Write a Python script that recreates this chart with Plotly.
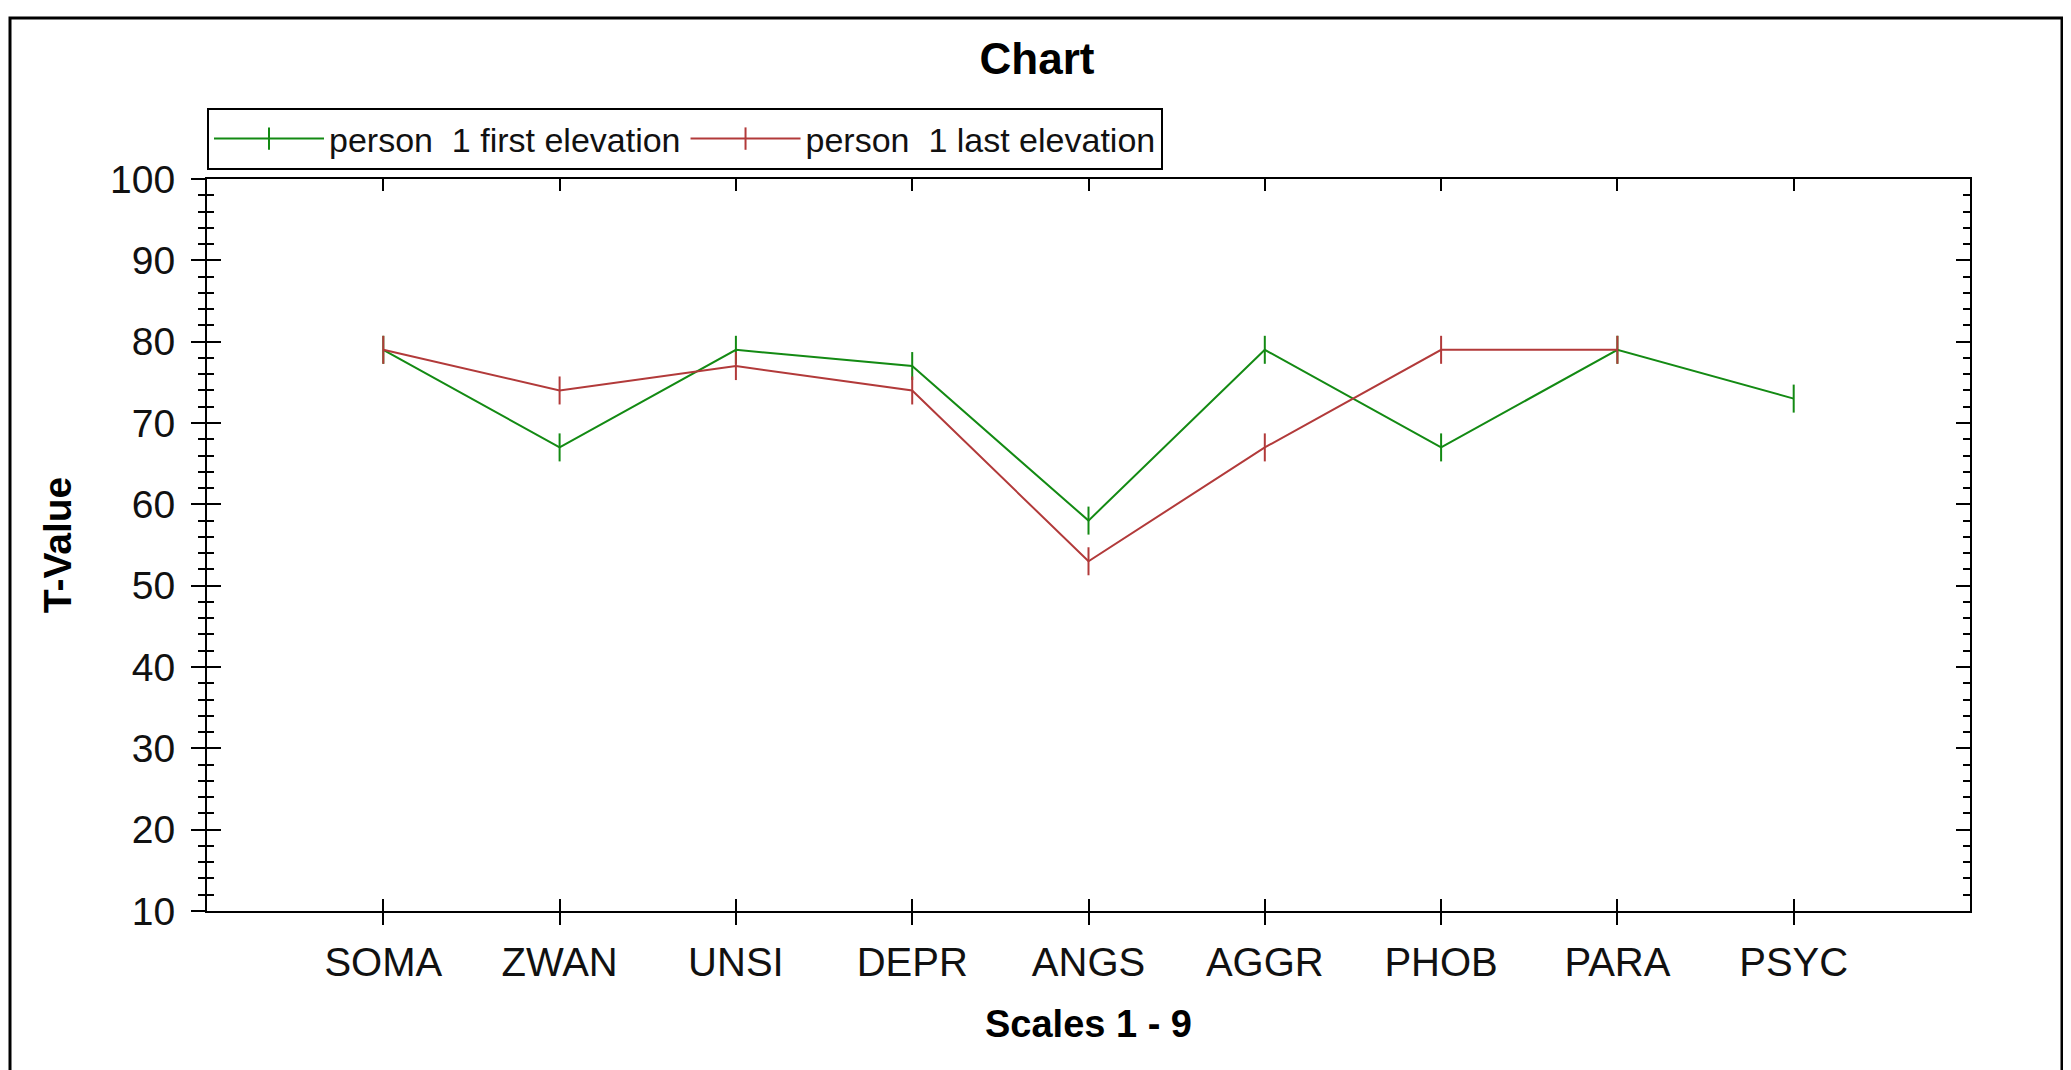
import plotly.graph_objects as go

categories = ["SOMA", "ZWAN", "UNSI", "DEPR", "ANGS", "AGGR", "PHOB", "PARA", "PSYC"]
first_elevation = [79, 67, 79, 77, 58, 79, 67, 79, 73]
last_elevation = [79, 74, 77, 74, 53, 67, 79, 79, None]
series_names = ["person  1 first elevation", "person  1 last elevation"]
y_ticks = list(range(10, 101, 10))

GREEN = "#138a13"
RED = "#b23a3a"
FONT = "Liberation Sans, Arial, sans-serif"

W, H = 2071, 1070
OFF = 8  # page body offset
L, R, T, B = 207 - OFF, 1970 - OFF, 179 - OFF, 911 - OFF

fig = go.Figure()
for name, vals, col in [(series_names[0], first_elevation, GREEN),
                        (series_names[1], last_elevation, RED)]:
    fig.add_trace(go.Scatter(
        x=categories, y=vals, name=name, mode="lines+markers",
        line=dict(color=col, width=2),
        marker=dict(symbol="line-ns", size=20, line=dict(color=col, width=2), color=col),
        connectgaps=False,
    ))

axis_common = dict(type="category", categoryorder="array", categoryarray=categories,
                   range=[-1, len(categories)])

fig.update_layout(
    width=W, height=H,
    margin=dict(l=L, r=W - R, t=T, b=H - B, pad=0),
    paper_bgcolor="white", plot_bgcolor="white",
    font=dict(family=FONT, color="#111111", size=38),
    title=dict(text="<b>Chart</b>", x=(1037 - OFF) / W, xanchor="center",
               y=1 - (59 - OFF) / H, yanchor="middle", yref="container",
               font=dict(size=44, family=FONT, color="black")),
    showlegend=True,
    legend=dict(orientation="h", x=0, xanchor="left", y=(911 - 108) / (911 - 179), yanchor="top",
                bordercolor="black", borderwidth=2, bgcolor="white",
                font=dict(size=34, family=FONT, color="#111111"),
                itemwidth=110, tracegroupgap=0),
    xaxis=dict(**axis_common, showgrid=False, zeroline=False,
               showline=True, linecolor="black", linewidth=2,
               ticks="outside", ticklen=12, tickwidth=2, tickcolor="black",
               tickfont=dict(size=40, family=FONT, color="#111111"),
               ticklabelstandoff=3,
               title=dict(text="<b>Scales 1 - 9</b>", standoff=27,
                          font=dict(size=38, family=FONT, color="black"))),
    xaxis2=dict(**axis_common, overlaying="x", anchor="y", side="bottom", matches="x",
                showgrid=False, zeroline=False, showline=False,
                ticks="inside", ticklen=12, tickwidth=2, tickcolor="black",
                showticklabels=False),
    xaxis3=dict(**axis_common, overlaying="x", anchor="y", side="top", matches="x",
                showgrid=False, zeroline=False, showline=True, linecolor="black", linewidth=2,
                ticks="inside", ticklen=12, tickwidth=2, tickcolor="black",
                showticklabels=False),
    yaxis=dict(range=[10, 100], tickvals=y_ticks, showgrid=False, zeroline=False,
               showline=True, linecolor="black", linewidth=2,
               ticks="outside", ticklen=14, tickwidth=2, tickcolor="black",
               minor=dict(dtick=2, ticks="outside", ticklen=7, tickwidth=2, tickcolor="black", showgrid=False),
               tickfont=dict(size=39, family=FONT, color="#111111"),
               ticklabelstandoff=8,
               title=dict(text="<b>T-Value</b>", standoff=26,
                          font=dict(size=39, family=FONT, color="black"))),
    yaxis2=dict(range=[10, 100], tickvals=y_ticks, overlaying="y", anchor="x", side="left",
                matches="y", showgrid=False, zeroline=False, showline=False,
                ticks="inside", ticklen=14, tickwidth=2, tickcolor="black",
                minor=dict(dtick=2, ticks="inside", ticklen=7, tickwidth=2, tickcolor="black", showgrid=False),
                showticklabels=False),
    yaxis3=dict(range=[10, 100], tickvals=y_ticks, overlaying="y", anchor="x", side="right",
                matches="y", showgrid=False, zeroline=False, showline=True,
                linecolor="black", linewidth=2,
                ticks="inside", ticklen=14, tickwidth=2, tickcolor="black",
                minor=dict(dtick=2, ticks="inside", ticklen=7, tickwidth=2, tickcolor="black", showgrid=False),
                showticklabels=False),
)

# invisible traces to make the extra axes render
fig.add_trace(go.Scatter(x=[categories[0]], y=[None], xaxis="x2", yaxis="y2",
                         showlegend=False, hoverinfo="skip"))
fig.add_trace(go.Scatter(x=[categories[0]], y=[None], xaxis="x3", yaxis="y3",
                         showlegend=False, hoverinfo="skip"))

# outer frame of the chart image
pw, ph = R - L, B - T
fig.add_shape(type="rect", xref="paper", yref="paper",
              x0=(10 - OFF - L) / pw, x1=(2062 - OFF - L) / pw,
              y0=(B - 1080) / ph, y1=(B - (18 - OFF)) / ph,
              line=dict(color="black", width=3), fillcolor="rgba(0,0,0,0)", layer="below")

fig.write_html("out.html")
